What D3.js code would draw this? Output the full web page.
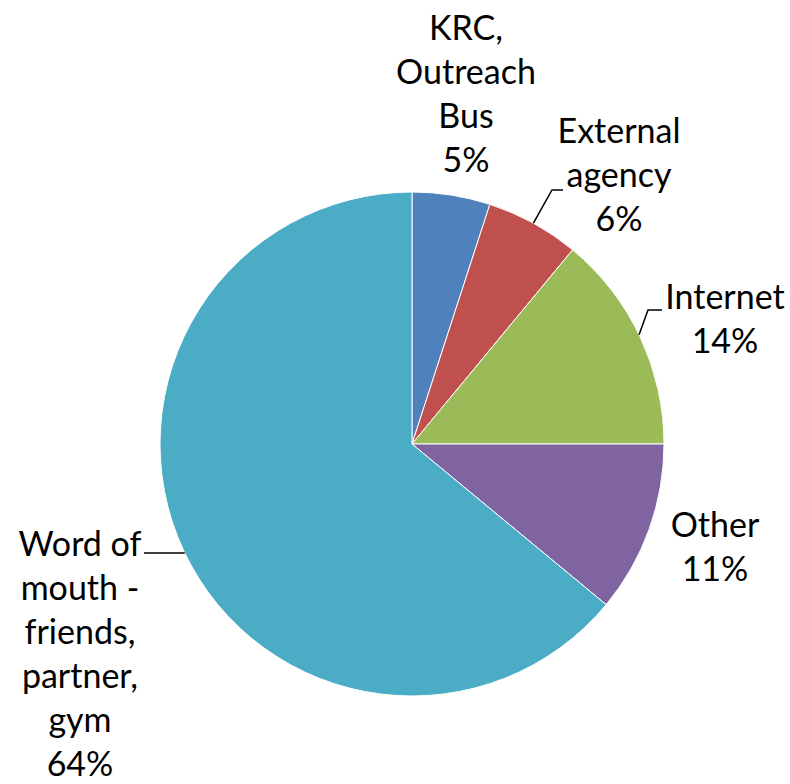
<!DOCTYPE html>
<html><head><meta charset="utf-8">
<script src="https://cdn.jsdelivr.net/npm/d3@7"></script>
<style>body{margin:0;background:#fff}</style>
</head><body>
<svg id="c" width="790" height="784"></svg>
<script>
const categories = ["KRC, Outreach Bus", "External agency", "Internet", "Other", "Word of mouth - friends, partner, gym"];
const values = [5, 6, 14, 11, 64];
const colors = ["#4F81BD", "#C0504D", "#9BBB59", "#8064A2", "#4BACC6"];
const labelLines = [["KRC,", "Outreach", "Bus"], ["External", "agency"], ["Internet"], ["Other"], ["Word of", "mouth -", "friends,", "partner,", "gym"]];

const cx = 412, cy = 444, R = 252;
const svg = d3.select("#c");
const g = svg.append("g").attr("transform", `translate(${cx},${cy})`);
const pie = d3.pie().sort(null).value(d => d)(values);
const arc = d3.arc().innerRadius(0).outerRadius(R);
g.selectAll("path").data(pie).enter().append("path")
  .attr("d", arc).attr("fill", (d, i) => colors[i])
  .attr("stroke", "#fff").attr("stroke-width", 1);

// label layout (center x, first baseline)
const labelPos = [[466, 40], [619, 143], [725, 309], [715, 537], [80, 556]];
const lh = 44;
const font = "Lato, 'Open Sans', sans-serif";
labelLines.forEach((lines, i) => {
  const all = lines.concat([d3.format(".0%")(values[i] / d3.sum(values))]);
  const t = svg.append("text").attr("text-anchor", "middle")
    .attr("font-family", font).attr("font-size", 34).attr("fill", "#000");
  all.forEach((s, j) => t.append("tspan").attr("x", labelPos[i][0]).attr("y", labelPos[i][1] + j * lh).text(s));
});

function edge(i, frac) {
  const d = pie[i];
  const a = d.startAngle + (d.endAngle - d.startAngle) * frac;
  return [cx + R * Math.sin(a), cy - R * Math.cos(a)];
}
const line = d3.line();
let p = edge(1, 0.5);
svg.append("path").attr("d", line([p, [552, 190], [563, 190]])).attr("fill", "none").attr("stroke", "#000").attr("stroke-width", 1.5);
p = edge(2, 0.49);
svg.append("path").attr("d", line([p, [648, 310], [662, 310]])).attr("fill", "none").attr("stroke", "#000").attr("stroke-width", 1.5);
const yW = 553, xW = cx - Math.sqrt(R * R - (yW - cy) * (yW - cy));
svg.append("path").attr("d", line([[144, yW], [xW, yW]])).attr("fill", "none").attr("stroke", "#000").attr("stroke-width", 1.5);
</script>
</body></html>
